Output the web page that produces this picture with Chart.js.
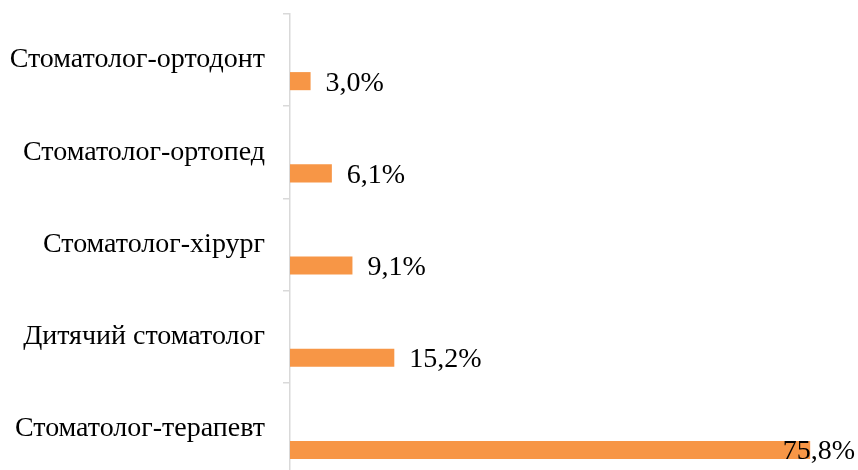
<!DOCTYPE html>
<html>
<head>
<meta charset="utf-8">
<script src="https://cdn.jsdelivr.net/npm/chart.js@4"></script>
<style>
  html, body { margin: 0; padding: 0; background: #fff; overflow: hidden; }
  #wrap { width: 858px; height: 475px; }
</style>
</head>
<body>
<div id="wrap"><canvas id="chart"></canvas></div>
<script>
const categories = ['Стоматолог-ортодонт', 'Стоматолог-ортопед', 'Стоматолог-хірург', 'Дитячий стоматолог', 'Стоматолог-терапевт'];
const shares = [3.0, 6.1, 9.1, 15.2, 75.8];
const spacer = [null, null, null, null, null];

const FONT = '"Liberation Serif", "Times New Roman", serif';
const fmtPct = v => v.toFixed(1).replace('.', ',') + '%';

// підписи значень праворуч від смуг
const valueLabels = {
  id: 'valueLabels',
  afterDatasetsDraw(chart) {
    const ctx = chart.ctx;
    const meta = chart.getDatasetMeta(1);
    ctx.save();
    ctx.font = '28px ' + FONT;
    ctx.fillStyle = '#000';
    ctx.textBaseline = 'middle';
    meta.data.forEach((bar, i) => {
      const text = fmtPct(shares[i]);
      const w = ctx.measureText(text).width;
      let x = bar.x + 15;
      if (x + w > chart.width - 3) x = chart.width - 3 - w;
      ctx.fillText(text, x, bar.y + 2);
    });
    ctx.restore();
  }
};

new Chart(document.getElementById('chart'), {
  type: 'bar',
  data: {
    labels: categories,
    datasets: [
      { data: spacer, backgroundColor: 'rgba(0,0,0,0)' },
      { data: shares, backgroundColor: '#F79646' }
    ]
  },
  options: {
    indexAxis: 'y',
    responsive: true, maintainAspectRatio: false, animation: false,
    categoryPercentage: 0.913, barPercentage: 0.43,
    layout: { padding: { top: 14, right: 19, bottom: 0, left: 0 } },
    plugins: { legend: { display: false }, tooltip: { enabled: false } },
    scales: {
      x: { display: false, min: 0, max: 80 },
      y: {
        afterFit: s => { s.width = 290; s.paddingTop = 0; s.paddingBottom = 0; },
        border: { color: '#d9d9d9', width: 1.5 },
        grid: { drawOnChartArea: false, color: '#d9d9d9', lineWidth: 1.5, tickLength: 7, offset: true },
        ticks: { color: '#000', font: { family: FONT, size: 28 }, padding: 18 }
      }
    }
  },
  plugins: [valueLabels]
});
</script>
</body>
</html>
